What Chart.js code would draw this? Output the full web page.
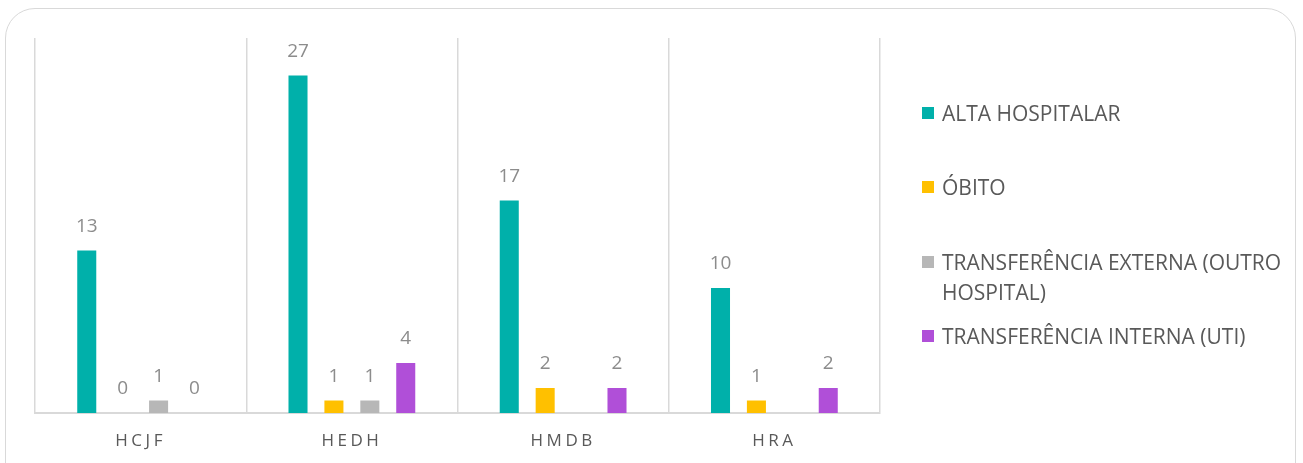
<!DOCTYPE html>
<html lang="pt">
<head>
    <meta charset="UTF-8">
    <title>Desfechos por hospital</title>
    <script src="https://cdn.jsdelivr.net/npm/chart.js"></script>
    <style>
        html, body { margin: 0; padding: 0; background: #fff; overflow: hidden; }
        .frame {
            position: absolute; left: 5px; top: 8px; width: 1291px; height: 500px;
            border: 1.5px solid #d9d9d9; border-radius: 30px; box-sizing: border-box;
        }
        .chart-box { position: absolute; left: 0; top: 0; width: 1303px; height: 463px; }
        .legend {
            position: absolute; left: 922px; top: 0; width: 375px;
            font-family: "Open Sans", sans-serif; font-size: 21px; color: #595959;
        }
        .legend-item { position: absolute; left: 0; display: flex; align-items: flex-start; line-height: 30px; }
        .legend-item span.box { width: 12px; height: 12px; margin-top: 9px; margin-right: 8px; flex: none; }
        .legend-item span.txt { width: 355px; }
    </style>
</head>
<body>
    <div class="frame"></div>
    <div class="chart-box"><canvas id="outcomeChart" width="1303" height="463"></canvas></div>
    <div class="legend" id="legend"></div>

    <script>
        const hospitals = ['HCJF', 'HEDH', 'HMDB', 'HRA'];
        const seriesNames = ['ALTA HOSPITALAR', 'ÓBITO', 'TRANSFERÊNCIA EXTERNA (OUTRO HOSPITAL)', 'TRANSFERÊNCIA INTERNA (UTI)'];
        const altaHospitalar = [13, 27, 17, 10];
        const obito = [0, 1, 2, 1];
        const transfExterna = [1, 1, null, null];
        const transfInterna = [0, 4, 2, 2];
        const seriesColors = ['#00b0aa', '#ffc000', '#b7b7b7', '#b04fd8'];

        // legend rows (top of each item, px)
        const legendTops = [98, 172, 247, 321];

        const allSeries = [altaHospitalar, obito, transfExterna, transfInterna];

        const valueLabels = {
            id: 'valueLabels',
            afterDatasetsDraw(chart) {
                const ctx = chart.ctx;
                ctx.save();
                ctx.letterSpacing = '0px';
                ctx.font = '19px "Open Sans", sans-serif';
                ctx.fillStyle = '#8c8c8c';
                ctx.textAlign = 'center';
                ctx.textBaseline = 'middle';
                chart.data.datasets.forEach((ds, i) => {
                    const meta = chart.getDatasetMeta(i);
                    meta.data.forEach((bar, j) => {
                        const v = ds.data[j];
                        if (v === null || v === undefined) return;
                        ctx.fillText(String(v), bar.x, bar.y - 24);
                    });
                });
                ctx.restore();
            }
        };

        const spacedTicks = {
            id: 'spacedTicks',
            beforeDraw(chart) { chart.ctx.letterSpacing = '3.5px'; },
            beforeDatasetsDraw(chart) { chart.ctx.letterSpacing = '0px'; }
        };

        const chart = new Chart(document.getElementById('outcomeChart'), {
            type: 'bar',
            data: {
                labels: hospitals,
                datasets: seriesNames.map((name, i) => ({
                    label: name,
                    data: allSeries[i],
                    backgroundColor: seriesColors[i],
                    categoryPercentage: 0.68,
                    barPercentage: 0.53
                }))
            },
            options: {
                responsive: false,
                animation: false,
                layout: { padding: { left: 35, right: 423, top: 38, bottom: 0 } },
                plugins: { legend: { display: false }, tooltip: { enabled: false } },
                scales: {
                    x: {
                        grid: { color: '#d9d9d9', lineWidth: 1.5, drawTicks: false, offset: true },
                        border: { color: '#d9d9d9', width: 2 },
                        ticks: {
                            color: '#595959', padding: 18,
                            font: { family: '"Open Sans", sans-serif', size: 17 }
                        },
                        afterFit(scale) { scale.height = 50; }
                    },
                    y: { display: false, min: 0, max: 30 }
                }
            },
            plugins: [spacedTicks, valueLabels]
        });

        const legend = document.getElementById('legend');
        seriesNames.forEach((name, i) => {
            const item = document.createElement('div');
            item.className = 'legend-item';
            item.style.top = legendTops[i] + 'px';
            const box = document.createElement('span');
            box.className = 'box';
            box.style.background = seriesColors[i];
            const txt = document.createElement('span');
            txt.className = 'txt';
            txt.textContent = name;
            item.appendChild(box);
            item.appendChild(txt);
            legend.appendChild(item);
        });
    </script>
</body>
</html>
